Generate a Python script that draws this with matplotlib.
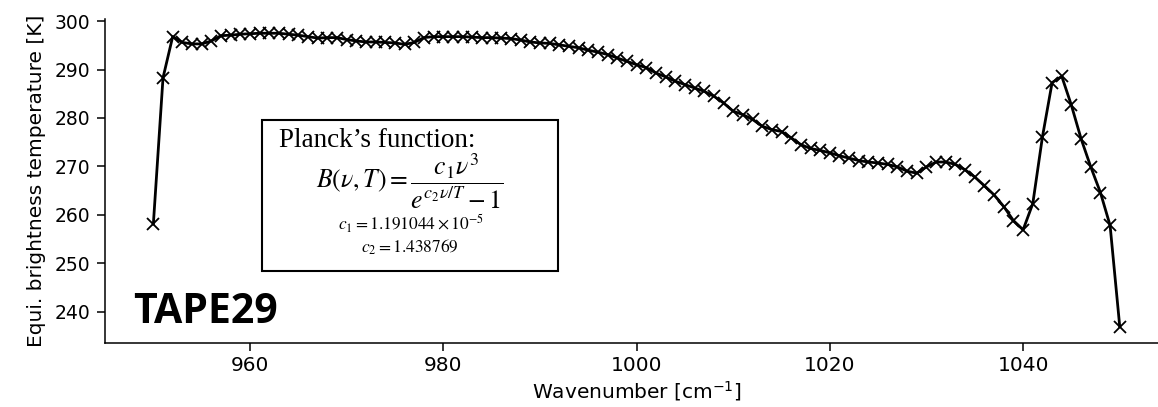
import numpy as np
import matplotlib
matplotlib.use("Agg")
import matplotlib.pyplot as plt
import matplotlib.patches as mpatches

# wavenumber grid [cm-1], one point per cm-1
wavenumber = np.arange(950, 1051)

# equivalent brightness temperature [K]
temperature = [
    258.1, 288.3, 296.8, 295.6, 295.3, 295.3, 295.9, 297.0, 297.1, 297.3,
    297.4, 297.5, 297.5, 297.5, 297.3, 297.1, 296.8, 296.5, 296.6, 296.6,
    296.2, 295.9, 295.7, 295.7, 295.6, 295.5, 295.2, 295.6, 296.6, 296.8,
    296.8, 296.8, 296.8, 296.7, 296.6, 296.6, 296.5, 296.4, 296.1, 295.7,
    295.5, 295.4, 295.1, 294.8, 294.5, 294.0, 293.6, 293.1, 292.4, 291.7,
    291.0, 290.4, 289.3, 288.5, 287.6, 286.9, 286.2, 285.5, 284.5, 283.1,
    281.4, 280.7, 279.7, 278.3, 277.6, 277.2, 275.9, 274.5, 273.7, 273.3,
    272.8, 272.2, 271.7, 271.2, 270.9, 270.7, 270.4, 269.9, 269.0, 268.6,
    269.9, 270.9, 270.9, 270.4, 269.3, 267.8, 266.0, 264.1, 261.7, 258.8,
    256.9, 262.3, 276.1, 287.3, 288.6, 282.6, 275.7, 269.9, 264.6, 257.8,
    236.9,
]

xticks = [960, 980, 1000, 1020, 1040]
yticks = [240, 250, 260, 270, 280, 290, 300]

def main():
    fig = plt.figure(figsize=(11.58, 4.07), dpi=100)
    # axes runs slightly past the right edge, like the cropped original
    ax = fig.add_axes([0.0907, 0.157, 0.918, 0.797])

    ax.plot(wavenumber, temperature, color="black", lw=2.0,
            marker="x", markersize=9, markeredgewidth=1.3)

    ax.set_xlim(945, 1055)
    ax.set_ylim(233.5, 300.5)
    ax.set_xticks(xticks)
    ax.set_yticks(yticks)
    ax.tick_params(length=6, width=1.1)
    ax.tick_params(axis="y", labelsize=13.5, pad=4.5)
    ax.tick_params(axis="x", labelsize=14.5)
    for s in ["top", "right"]:
        ax.spines[s].set_visible(False)
    for s in ["left", "bottom"]:
        ax.spines[s].set_linewidth(1.1)

    ax.set_xlabel(r"Wavenumber [cm$^{-1}$]", fontsize=14.5, labelpad=3)
    ax.set_ylabel("Equi. brightness temperature [K]", fontsize=14.5, labelpad=6)

    # Planck box
    box = mpatches.Rectangle((0.148, 0.222), 0.278, 0.466, transform=ax.transAxes,
                             fill=False, edgecolor="black", lw=1.5, zorder=3)
    ax.add_patch(box)
    ax.text(0.164, 0.625, "Planck\u2019s function:", transform=ax.transAxes,
            family="Liberation Serif", fontsize=19.5, va="center", ha="left")
    ax.text(0.287, 0.50, r"$B(\nu,T) = \dfrac{c_1\nu^3}{e^{c_2\nu/T}-1}$",
            transform=ax.transAxes, fontsize=18.5, math_fontfamily="stix",
            va="center", ha="center")
    ax.text(0.288, 0.367, r"$c_1 = \mathrm{1.191044} \times 10^{-5}$",
            transform=ax.transAxes, fontsize=12.5, math_fontfamily="stix",
            va="center", ha="center")
    ax.text(0.287, 0.295, r"$c_2 = \mathrm{1.438769}$",
            transform=ax.transAxes, fontsize=12.5, math_fontfamily="stix",
            va="center", ha="center")

    ax.text(0.026, 0.062, "TAPE29", transform=ax.transAxes,
            family=["Open Sans", "DejaVu Sans"], fontweight="bold", fontsize=29.5,
            va="baseline", ha="left")

    fig.savefig("out.png", dpi=100)

if __name__ == '__main__':
    main()
